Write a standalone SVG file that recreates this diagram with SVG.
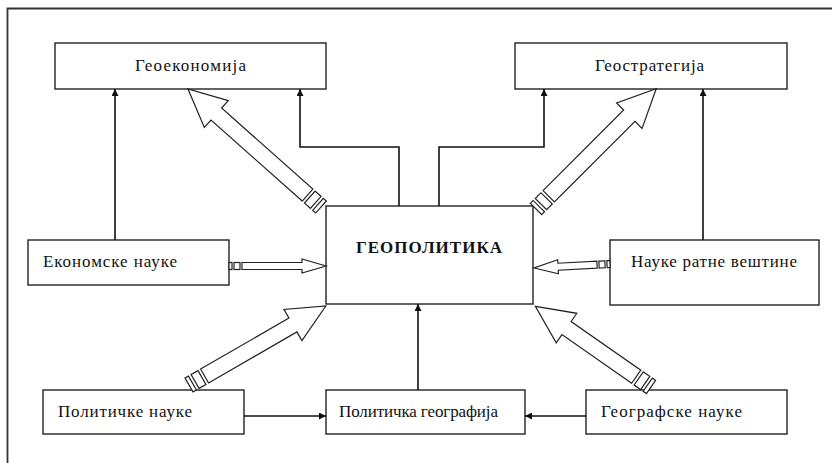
<svg xmlns="http://www.w3.org/2000/svg" width="832" height="463" viewBox="0 0 832 463">
<style>
.box{fill:#fff;stroke:#222;stroke-width:1.4}
.t{font-family:"Liberation Serif","Times New Roman",serif;font-size:17px;fill:#111}
.tb{font-family:"Liberation Serif","Times New Roman",serif;font-size:17px;font-weight:bold;fill:#111;letter-spacing:1px}
.ln{fill:none;stroke:#111;stroke-width:1.6}
.ba{fill:#fff;stroke:#222;stroke-width:1.2;stroke-linejoin:miter}
.frame{fill:none;stroke:#333;stroke-width:1.8}
</style>
<defs>
<marker id="ah" viewBox="0 0 10 10" refX="10" refY="5" markerWidth="7" markerHeight="7" markerUnits="userSpaceOnUse" orient="auto">
<path d="M0,0 L10,5 L0,10 Z" fill="#111"/>
</marker>
</defs>
<path class="frame" d="M7.5,463 V8.5 H832"/>

<g id="geoekonomija"><rect class="box" x="55" y="43" width="271" height="46"/><text class="t" x="135" y="70.5" textLength="111" lengthAdjust="spacing">Геоекономија</text></g>
<g id="geostrategija"><rect class="box" x="515" y="43" width="272" height="46"/><text class="t" x="595" y="70.5" textLength="109" lengthAdjust="spacing">Геостратегија</text></g>
<g id="geopolitika"><rect class="box" x="326" y="206" width="207" height="98"/><text class="tb" x="429.5" y="253" text-anchor="middle">ГЕОПОЛИТИКА</text></g>
<g id="ekonomske"><rect class="box" x="28" y="240" width="201" height="45"/><text class="t" x="43" y="267" textLength="134" lengthAdjust="spacing">Економске науке</text></g>
<g id="ratne"><rect class="box" x="610" y="240" width="209" height="65"/><text class="t" x="631" y="267" textLength="166" lengthAdjust="spacing">Науке ратне вештине</text></g>
<g id="politicke"><rect class="box" x="43" y="390" width="201" height="44"/><text class="t" x="58" y="417" textLength="134" lengthAdjust="spacing">Политичке науке</text></g>
<g id="polgeografija"><rect class="box" x="326" y="390" width="199" height="44"/><text class="t" x="339" y="417" textLength="159" lengthAdjust="spacing">Политичка географија</text></g>
<g id="geografske"><rect class="box" x="586" y="390" width="201" height="44"/><text class="t" x="601" y="417" textLength="141" lengthAdjust="spacing">Географске науке</text></g>

<g id="connectors">
<path class="ln" d="M115,240 V89" marker-end="url(#ah)"/>
<path class="ln" d="M399,206 V147 H300 V89" marker-end="url(#ah)"/>
<path class="ln" d="M439,206 V147 H544 V89" marker-end="url(#ah)"/>
<path class="ln" d="M703,240 V89" marker-end="url(#ah)"/>
<path class="ln" d="M244,416 H326" marker-end="url(#ah)"/>
<path class="ln" d="M586,416 H525" marker-end="url(#ah)"/>
<path class="ln" d="M418,390 V304" marker-end="url(#ah)"/>

<g class="ba" transform="translate(321,207) rotate(-138.4)">
<rect x="0" y="-8" width="4" height="16"/><rect x="7" y="-8" width="8" height="16"/>
<path d="M18,-8 H140 V-18 L178,0 L140,18 V8 H18 Z"/>
</g>
<g class="ba" transform="translate(536,209) rotate(-45)">
<rect x="0" y="-8" width="4" height="16"/><rect x="7" y="-8" width="8" height="16"/>
<path d="M18,-8 H132 V-18 L170,0 L132,18 V8 H18 Z"/>
</g>
<g class="ba" transform="translate(189,385) rotate(-30)">
<rect x="0" y="-8" width="4" height="16"/><rect x="7" y="-8" width="8" height="16"/>
<path d="M18,-8 H120 V-18 L158,0 L120,18 V8 H18 Z"/>
</g>
<g class="ba" transform="translate(651,387) rotate(-145.1)">
<rect x="0" y="-8" width="4" height="16"/><rect x="7" y="-8" width="8" height="16"/>
<path d="M18,-8 H103 V-18 L141,0 L103,18 V8 H18 Z"/>
</g>
<g class="ba" transform="translate(229,266)">
<rect x="0" y="-3.5" width="3" height="7"/><rect x="5" y="-3.5" width="6" height="7"/>
<path d="M13,-3.5 H73 V-7 L97,0 L73,7 V3.5 H13 Z"/>
</g>
<g class="ba" transform="translate(610,264) rotate(177)">
<rect x="0" y="-3.5" width="3" height="7"/><rect x="5" y="-3.5" width="6" height="7"/>
<path d="M13,-3.5 H52 V-7 L76,0 L52,7 V3.5 H13 Z"/>
</g>
</g>
</svg>
